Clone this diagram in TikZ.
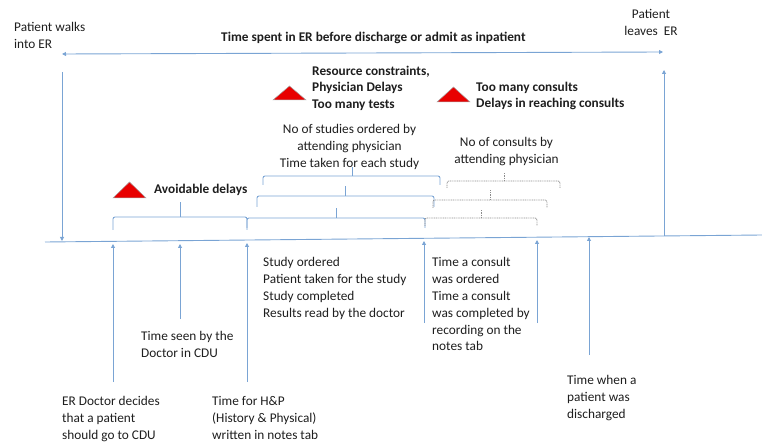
\documentclass[tikz,border=0pt]{standalone}
\usepackage{fontspec}
\setmainfont{Carlito}
\usetikzlibrary{arrows.meta}
\definecolor{tlblue}{RGB}{122,164,212}
\definecolor{dotgray}{RGB}{140,140,140}
\definecolor{ink}{RGB}{30,30,30}
\definecolor{warnred}{RGB}{232,0,0}

% brace: [style] x1, x2, x-tip, y of bar, y of ends, y of tip
\newcommand{\ebrace}[7][]{%
  \draw[#1, rounded corners=2pt] (#2,#6) -- (#2,#5) -- (#3,#5) -- (#3,#6);
  \draw[#1] (#4,#5) -- (#4,#7);}

\begin{document}
\begin{tikzpicture}[x=1pt, y=-1pt,
  font=\fontsize{13.3}{16.8}\selectfont, text=ink,
  txt/.style={inner sep=0pt, align=left, anchor=north west},
  ctxt/.style={inner sep=0pt, align=center, anchor=north},
  one/.style={inner sep=0pt, anchor=base west},
  hot/.style={font=\fontsize{13.3}{16.8}\selectfont\bfseries},
  axis/.style={draw=tlblue, line width=0.9pt},
  tick/.style={draw=tlblue, line width=0.9pt, -{Triangle[length=4pt, width=4pt]}},
  both/.style={draw=tlblue, line width=0.9pt, {Triangle[length=4pt, width=4pt]}-{Triangle[length=4pt, width=4pt]}},
  solidbrace/.style={draw=tlblue, line width=0.9pt},
  dotbrace/.style={draw=dotgray, line width=0.8pt, dash pattern=on 1pt off 0.8pt},
  warn/.style={fill=warnred, draw=gray!70, line width=0.5pt}]

\useasboundingbox (0,0) rectangle (762,443);

% time line
\coordinate (tl0) at (45,242);
\coordinate (tl1) at (762,235);
\draw[axis] (tl0) -- (tl1);

% overall stay in the ER
\coordinate (inTop) at (62,72);
\coordinate (inBot) at (62,241);
\coordinate (outBot) at (664,236);
\coordinate (outTop) at (664,70);
\coordinate (stayL) at (62,54);
\coordinate (stayR) at (663,52);
\draw[both] (stayL) -- (stayR);
\draw[tick] (inTop) -- (inBot);
\draw[tick] (outBot) -- (outTop);

\node[txt] (walks) at (14,22.5) {Patient walks\\into ER};
\node[ctxt] (leaves) at (651,9.5) {Patient\\leaves\ \ ER};
\node[one, hot] (title) at (221,41.5) {Time spent in ER before discharge or admit as inpatient};

% delay markers
\fill[warn] (273,100) -- (289.5,86) -- (306,100) -- cycle;
\fill[warn] (437,102) -- (453.5,87) -- (470,102) -- cycle;
\fill[warn] (113,198) -- (129.5,182) -- (146,198) -- cycle;
\node[txt, hot] (resource) at (312,65.5) {Resource constraints,\\Physician Delays\\Too many tests};
\node[txt, hot] (toomany) at (476,81.5) {Too many consults\\Delays in reaching consults};
\node[one, hot] (avoid) at (154,193.5) {Avoidable delays};

% intervals along the stay
\ebrace[solidbrace]{113}{247}{180}{217}{230}{202}
\ebrace[solidbrace]{247}{425}{336}{218}{228}{208}
\ebrace[solidbrace]{257}{434}{345}{196}{207}{186}
\ebrace[solidbrace]{263}{440}{352}{176}{185}{167}
\ebrace[dotbrace]{425}{537}{481}{218}{226}{210}
\ebrace[dotbrace]{433}{547}{490}{200}{208}{190}
\ebrace[dotbrace]{447}{560}{504}{181}{188}{173}

\node[ctxt] (studies) at (349.5,124.5) {No of studies ordered by\\attending physician\\Time taken for each study};
\node[ctxt] (consultsby) at (506.5,137.5) {No of consults by\\attending physician};

% events on the time line
\coordinate (e1) at (113,244);
\coordinate (e1b) at (113,382);
\coordinate (e2) at (180,244);
\coordinate (e2b) at (180,319);
\coordinate (e3) at (247,243);
\coordinate (e3b) at (247,382);
\coordinate (e4) at (424,241);
\coordinate (e4b) at (424,323);
\coordinate (e5) at (537,240);
\coordinate (e5b) at (537,323);
\coordinate (e6) at (589,237);
\coordinate (e6b) at (589,355);
\foreach \a/\b in {e1b/e1, e2b/e2, e3b/e3, e4b/e4, e5b/e5, e6b/e6}
  \draw[tick] (\a) -- (\b);

\node[txt] (decides) at (62,396.5) {ER Doctor decides\\that a patient\\should go to CDU};
\node[txt] (seen) at (141,331.5) {Time seen by the\\Doctor in CDU};
\node[txt] (hp) at (212,396.5) {Time for H\&P\\(History \& Physical)\\written in notes tab};
\node[txt] (study) at (263,257.5) {Study ordered\\Patient taken for the study\\Study completed\\Results read by the doctor};
\node[txt] (consult) at (432,257.5) {Time a consult\\was ordered\\Time a consult\\was completed by\\recording on the\\notes tab};
\node[txt] (discharged) at (567,375.5) {Time when a\\patient was\\discharged};
\end{tikzpicture}
\end{document}
